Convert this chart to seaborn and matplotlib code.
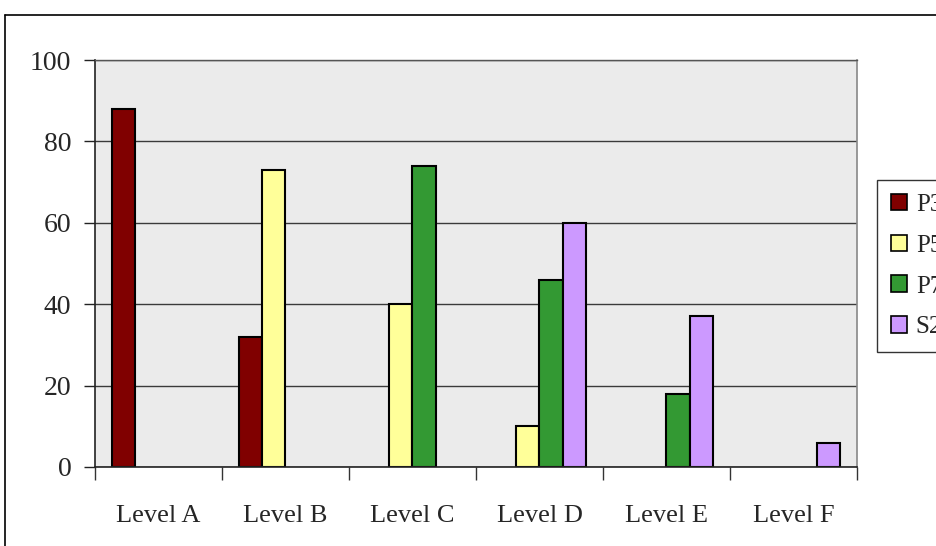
import numpy as np
import pandas as pd
import matplotlib
matplotlib.use("Agg")
import matplotlib.pyplot as plt
import seaborn as sns
from matplotlib.lines import Line2D
from matplotlib.patches import Patch

categories = ["Level A", "Level B", "Level C", "Level D", "Level E", "Level F"]
series = ["P3", "P5", "P7", "S2"]
p3 = [88, 32, None, None, None, None]
p5 = [None, 73, 40, 10, None, None]
p7 = [None, None, 74, 46, 18, None]
s2 = [None, None, None, 60, 37, 6]
colors = ["#800000", "#FFFF99", "#339933", "#CC99FF"]
yticks = [0, 20, 40, 60, 80, 100]

rows = []
for name, vals in zip(series, [p3, p5, p7, s2]):
    for cat, v in zip(categories, vals):
        if v is not None:
            rows.append({"Level": cat, "Series": name, "Value": v})
df = pd.DataFrame(rows)

sns.set_theme(style="white")
plt.rcParams["font.family"] = ["Liberation Serif", "DejaVu Serif"]

W, H = 937, 546
fig = plt.figure(figsize=(W / 100, H / 100), dpi=100)
ax = fig.add_axes([95 / W, 1 - 467 / H, (857 - 95) / W, (467 - 60) / H])
ax.set_facecolor("#EBEBEB")

sns.barplot(data=df, x="Level", y="Value", hue="Series", order=categories,
            hue_order=series, palette=colors, width=0.725, dodge=True,
            edgecolor="black", linewidth=1.5, ax=ax, legend=False, saturation=1)

ax.set_xlim(-0.5, len(categories) - 0.5)
ax.set_ylim(0, 100)
ax.set_yticks(yticks)
ax.set_yticklabels([str(t) for t in yticks], fontsize=20)
ax.yaxis.grid(True, color="#3a3a3a", linewidth=1)
ax.set_axisbelow(True)
ax.set_xlabel("")
ax.set_ylabel("")
ax.set_xticks(range(len(categories)))
ax.set_xticklabels(categories, fontsize=19)
ax.set_xticks(np.arange(-0.5, len(categories), 1), minor=True)
ax.tick_params(axis="x", which="major", length=0, pad=27)
ax.tick_params(axis="x", which="minor", length=9, width=1, color="#333333", direction="out", bottom=True)
ax.tick_params(axis="y", length=8, width=1, color="#222222", direction="out", left=True, pad=9)
for s in ["left", "bottom"]:
    ax.spines[s].set_color("#222222")
    ax.spines[s].set_linewidth(1.2)
ax.spines["right"].set_color("#888888")
ax.spines["right"].set_linewidth(1.2)
ax.spines["top"].set_color("#555555")
ax.spines["top"].set_linewidth(1)

# outer chart frame
fig.add_artist(Line2D([5 / W, 5 / W], [0, 1 - 15 / H], transform=fig.transFigure, color="black", lw=1.2))
fig.add_artist(Line2D([5 / W, 1], [1 - 15 / H, 1 - 15 / H], transform=fig.transFigure, color="black", lw=1.2))

handles = [Patch(facecolor=c, edgecolor="black", linewidth=1.2) for c in colors]
leg = fig.legend(handles, series, loc="upper left", bbox_to_anchor=(877 / W, 1 - 180 / H),
                 bbox_transform=fig.transFigure, frameon=True, fancybox=False,
                 prop={"family": ["Liberation Serif"], "size": 18},
                 handlelength=0.65, handleheight=0.65, handletextpad=0.35,
                 borderpad=0.55, labelspacing=0.75, borderaxespad=0)
leg.get_frame().set_edgecolor("black")
leg.get_frame().set_linewidth(1)

fig.savefig("out.png", dpi=100)
